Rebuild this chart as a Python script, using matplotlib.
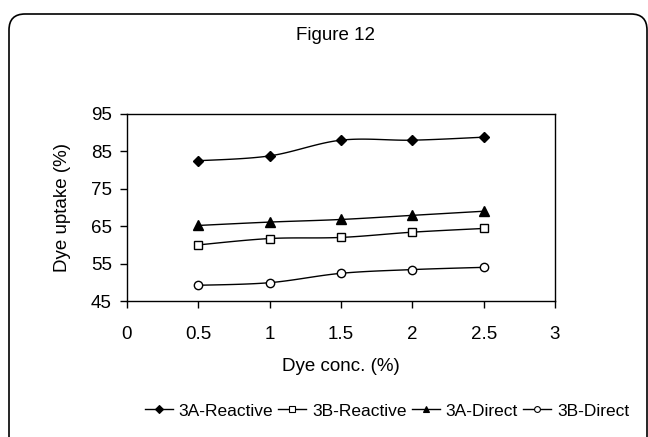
import numpy as np
import matplotlib.pyplot as plt
from matplotlib.patches import FancyBboxPatch

plt.rcParams['font.family'] = ['Liberation Sans', 'DejaVu Sans']

# dye concentration (%) and uptake (%) for each fabric / dye class
conc = [0.5, 1.0, 1.5, 2.0, 2.5]
reactive_3a = [82.5, 83.8, 88.0, 88.0, 88.8]
reactive_3b = [60.0, 61.7, 62.0, 63.4, 64.4]
direct_3a = [65.2, 66.1, 66.8, 67.9, 69.0]
direct_3b = [49.2, 49.9, 52.4, 53.4, 54.0]

series = [
    ("3A-Reactive", reactive_3a, dict(marker="D", mfc="black", ms=5.5)),
    ("3B-Reactive", reactive_3b, dict(marker="s", mfc="white", ms=6)),
    ("3A-Direct", direct_3a, dict(marker="^", mfc="black", ms=7)),
    ("3B-Direct", direct_3b, dict(marker="o", mfc="white", ms=6)),
]

FS = 13.5


def smooth(x, y, n=30):
    # Catmull-Rom style curve through the points, like a "smoothed line" chart
    x = np.asarray(x, float)
    y = np.asarray(y, float)
    px = np.concatenate([[x[0]], x, [x[-1]]])
    py = np.concatenate([[y[0]], y, [y[-1]]])
    xs, ys = [], []
    for i in range(1, len(px) - 2):
        p0, p1, p2, p3 = [np.array([px[j], py[j]]) for j in (i - 1, i, i + 1, i + 2)]
        c1 = p1 + (p2 - p0) / 6.0
        c2 = p2 - (p3 - p1) / 6.0
        t = np.linspace(0, 1, n)[:, None]
        pts = ((1 - t) ** 3) * p1 + 3 * ((1 - t) ** 2) * t * c1 + 3 * (1 - t) * t ** 2 * c2 + t ** 3 * p2
        xs.append(pts[:, 0])
        ys.append(pts[:, 1])
    return np.concatenate(xs), np.concatenate(ys)


fig = plt.figure(figsize=(6.48, 4.37), dpi=100)

# rounded outer frame, drawn in pixel units on a background axes
bg = fig.add_axes([0, 0, 1, 1])
bg.set_xlim(0, 648)
bg.set_ylim(437, 0)
bg.axis("off")
bg.add_patch(FancyBboxPatch((9, 14), 638, 440, boxstyle="round,pad=0,rounding_size=16",
                            fc="white", ec="black", lw=1.2))

ax = fig.add_axes([127 / 648, 1 - 301 / 437, 428 / 648, 187 / 437])
handles = []
for name, vals, style in series:
    sx, sy = smooth(conc, vals)
    ax.plot(sx, sy, color="black", lw=1)
    ax.plot(conc, vals, ls="none", mec="black", mew=1, **style)
    h, = ax.plot([], [], color="black", lw=1, mec="black", mew=0.8,
                 marker=style["marker"], mfc=style["mfc"], ms=style["ms"] * 0.7)
    handles.append((h, name))

ax.set_xlim(0, 3)
ax.set_ylim(45, 95)
ax.set_xticks([0, 0.5, 1, 1.5, 2, 2.5, 3])
ax.set_xticklabels(["0", "0.5", "1", "1.5", "2", "2.5", "3"])
ax.set_yticks([45, 55, 65, 75, 85, 95])
ax.tick_params(axis="both", labelsize=FS, length=5, width=1, direction="out", colors="black")
ax.tick_params(axis="x", pad=13)
ax.tick_params(axis="y", pad=6)
for sp in ax.spines.values():
    sp.set_linewidth(1)
ax.set_xlabel("Dye conc. (%)", fontsize=FS, labelpad=11)
ax.set_ylabel("Dye uptake (%)", fontsize=FS, labelpad=14)

fig.text(336 / 648, 1 - 35 / 437, "Figure 12", fontsize=FS, ha="center", va="center")

fig.legend([h for h, _ in handles], [n for _, n in handles], loc="center",
           bbox_to_anchor=(387 / 648, 1 - 411 / 437), ncol=4, frameon=False,
           fontsize=12.5, handlelength=1.6, handletextpad=0.35, columnspacing=0.3,
           borderpad=0, borderaxespad=0)

fig.savefig("out.png", dpi=100)
